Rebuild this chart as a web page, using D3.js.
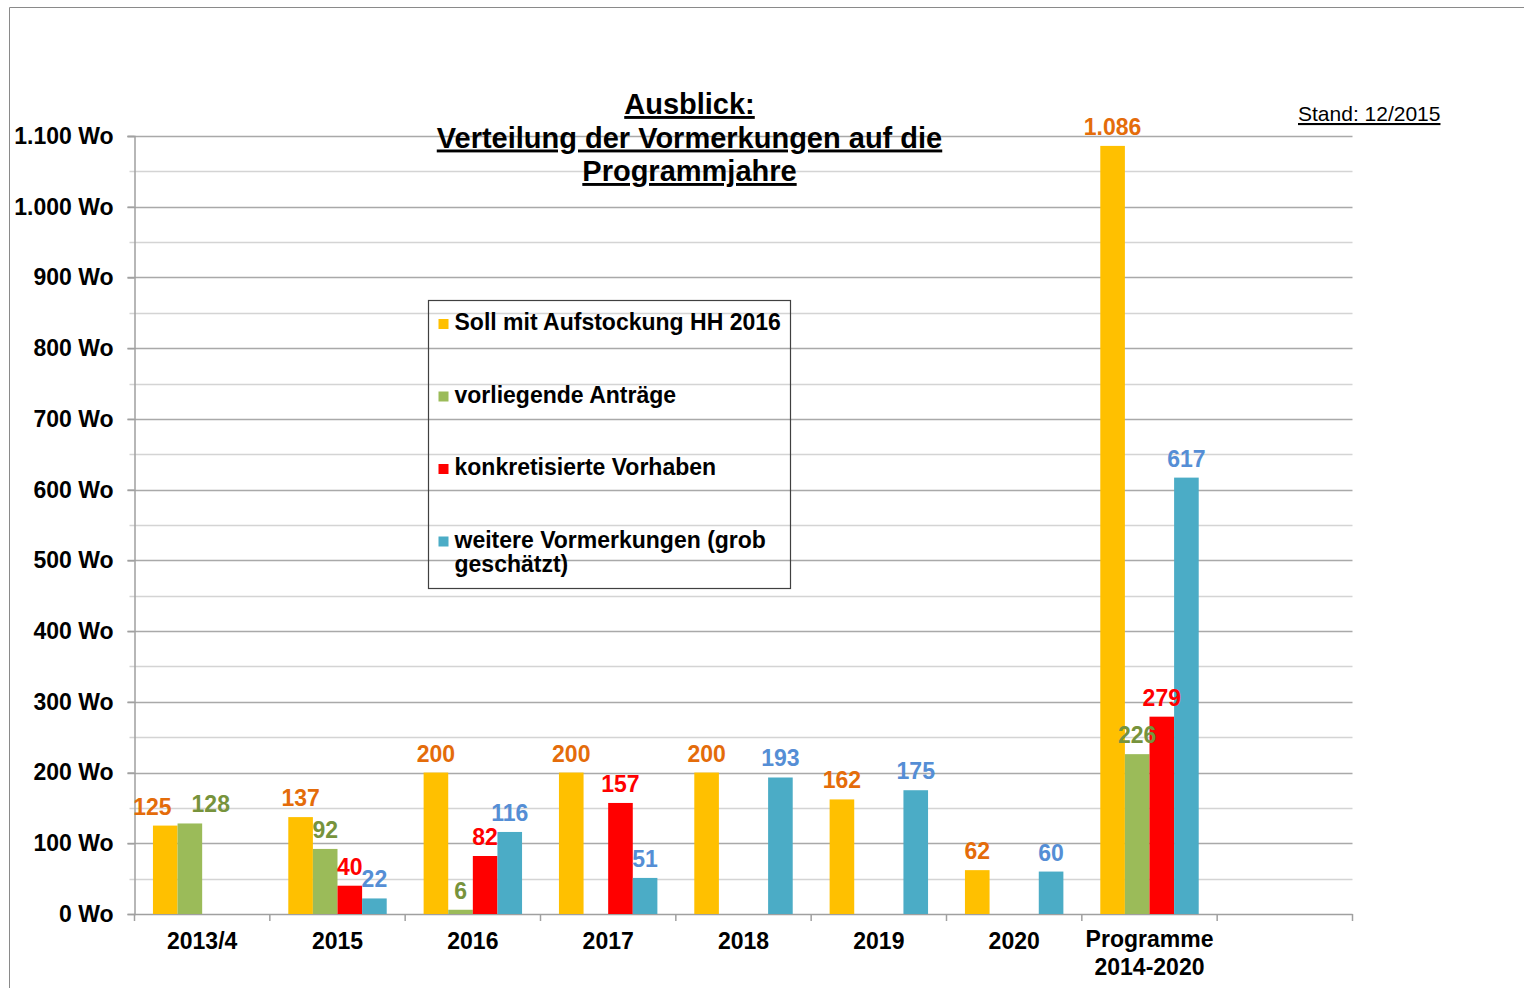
<!DOCTYPE html>
<html>
<head>
<meta charset="utf-8">
<script src="https://cdn.jsdelivr.net/npm/d3@7/dist/d3.min.js"></script>
<style>
body { margin: 0; background: #fff; }
svg text { font-family: "Liberation Sans", Arial, sans-serif; }
</style>
</head>
<body>
<div id="chart"></div>
<script>
// Chart data
var categories = ["2013/4", "2015", "2016", "2017", "2018", "2019", "2020", "Programme\n2014-2020", ""];
var seriesNames = ["Soll mit Aufstockung HH 2016", "vorliegende Anträge",
                   "konkretisierte Vorhaben", "weitere Vormerkungen (grob\ngeschätzt)"];
var soll     = [125, 137, 200, 200, 200, 162, 62, 1086, null];
var antraege = [128, 92, 6, null, null, null, null, 226, null];
var vorhaben = [null, 40, 82, 157, null, null, null, 279, null];
var weitere  = [null, 22, 116, 51, 193, 175, 60, 617, null];
var yTicks = [0, 100, 200, 300, 400, 500, 600, 700, 800, 900, 1000, 1100];

var barColours   = ["#FFC000", "#9BBB59", "#FF0000", "#4BACC6"];
var labelColours = ["#E46C0A", "#77933C", "#FF0000", "#558ED5"];

var width = 1524, height = 988;
// plot area edges (note: "top" is a reserved window property)
var plotLeft = 134.5, plotRight = 1352.5, plotBottom = 914, plotTop = 136;
var fontSize = 23;

var de = d3.formatLocale({decimal: ",", thousands: ".", grouping: [3], currency: ["", " €"]});
var fmt = de.format(",d");

var svg = d3.select("#chart").append("svg")
    .attr("width", width)
    .attr("height", height);

// outer frame (top and left edges visible)
svg.append("line").attr("x1", 9.5).attr("y1", 7.5).attr("x2", width).attr("y2", 7.5)
    .attr("stroke", "#8a8a8a");
svg.append("line").attr("x1", 9.5).attr("y1", 7.5).attr("x2", 9.5).attr("y2", height)
    .attr("stroke", "#8a8a8a");

var y = d3.scaleLinear().domain([0, 1100]).range([plotBottom, plotTop]);
var x0 = d3.scaleBand().domain(categories).range([plotLeft, plotRight]).padding(0);
var x1 = d3.scaleBand().domain(seriesNames).range([0, x0.bandwidth()])
    .paddingInner(0).paddingOuter(0.75);

// gridlines, major every 100 and minor every 50
var gridVals = d3.range(0, 1101, 50);
svg.append("g").selectAll("line")
    .data(gridVals.filter(function(d) { return d > 0; }))
    .enter().append("line")
    .attr("x1", function(d) { return d % 100 === 0 ? plotLeft - 7 : plotLeft - 5; })
    .attr("x2", plotRight)
    .attr("y1", function(d) { return Math.round(y(d)) + 0.5; })
    .attr("y2", function(d) { return Math.round(y(d)) + 0.5; })
    .attr("stroke", function(d) { return d % 100 === 0 ? "#a9a9a9" : "#d4d4d4"; })
    .attr("stroke-width", 1.5);

// y axis
var yAxis = d3.axisLeft(y)
    .tickValues(yTicks)
    .tickSize(7)
    .tickPadding(14)
    .tickFormat(function(d) { return fmt(d) + " Wo"; });
var gy = svg.append("g").attr("transform", "translate(" + plotLeft + ",0)").call(yAxis);
gy.select(".domain").attr("stroke", "#a0a0a0").attr("stroke-width", 1.5);
gy.selectAll(".tick line").attr("stroke", "#a0a0a0").attr("stroke-width", 1.5);
gy.selectAll(".tick text")
    .attr("font-family", "Liberation Sans, Arial, sans-serif")
    .attr("font-size", fontSize)
    .attr("font-weight", "bold")
    .attr("fill", "#000");

// x axis line and category boundary ticks
svg.append("line").attr("x1", plotLeft).attr("x2", plotRight)
    .attr("y1", plotBottom + 0.5).attr("y2", plotBottom + 0.5)
    .attr("stroke", "#a0a0a0").attr("stroke-width", 1.5);
var bounds = categories.map(function(c) { return x0(c); }).concat([plotRight]);
svg.append("g").selectAll("line").data(bounds).enter().append("line")
    .attr("x1", function(d) { return d; }).attr("x2", function(d) { return d; })
    .attr("y1", plotBottom).attr("y2", plotBottom + 7)
    .attr("stroke", "#a0a0a0").attr("stroke-width", 1.5);

// x category labels
var xl = svg.append("g").selectAll("text").data(categories).enter().append("text")
    .attr("text-anchor", "middle")
    .attr("font-size", fontSize)
    .attr("font-weight", "bold")
    .attr("fill", "#000")
    .attr("transform", function(d) {
        var lines = d.split("\n").length;
        return "translate(" + (x0(d) + x0.bandwidth() / 2) + "," + (lines > 1 ? 947 : 949) + ")";
    });
xl.each(function(d) {
    var t = d3.select(this);
    d.split("\n").forEach(function(s, i) {
        t.append("tspan").attr("x", 0).attr("dy", i === 0 ? 0 : 28).text(s);
    });
});

// bars
var series = [soll, antraege, vorhaben, weitere];
var barData = [];
series.forEach(function(vals, si) {
    vals.forEach(function(v, ci) {
        if (v !== null) barData.push({s: si, c: categories[ci], v: v});
    });
});

svg.append("g").selectAll("rect").data(barData).enter().append("rect")
    .attr("x", function(d) { return x0(d.c) + x1(seriesNames[d.s]); })
    .attr("y", function(d) { return y(d.v); })
    .attr("width", x1.bandwidth())
    .attr("height", function(d) { return plotBottom - y(d.v); })
    .attr("fill", function(d) { return barColours[d.s]; });

// value labels
var labels = svg.append("g").selectAll("text").data(barData).enter().append("text")
    .attr("x", function(d) { return x0(d.c) + x1(seriesNames[d.s]) + x1.bandwidth() / 2; })
    .attr("y", function(d) { return y(d.v) - 11; })
    .attr("text-anchor", "middle")
    .attr("font-size", fontSize)
    .attr("font-weight", "bold")
    .attr("fill", function(d) { return labelColours[d.s]; })
    .text(function(d) { return fmt(d.v); });

// push apart labels of neighbouring bars whose digits would overlap
function glyphBox(node) {
    var sel = d3.select(node);
    var w = node.getComputedTextLength();
    var base = +sel.attr("y");
    return {x0: +sel.attr("x") - w / 2, x1: +sel.attr("x") + w / 2,
            y0: base - 0.72 * fontSize, y1: base};
}
categories.forEach(function(c) {
    var nodes = labels.filter(function(d) { return d.c === c; }).nodes();
    for (var i = 1; i < nodes.length; i++) {
        var a = glyphBox(nodes[i - 1]), b = glyphBox(nodes[i]);
        var overlapX = a.x1 - b.x0;
        var overlapY = Math.min(a.y1, b.y1) - Math.max(a.y0, b.y0);
        if (overlapX > 2 && overlapY > 0) {
            var shift = (overlapX + 20) / 2;
            d3.select(nodes[i - 1]).attr("x", +d3.select(nodes[i - 1]).attr("x") - shift + 4);
            d3.select(nodes[i]).attr("x", +d3.select(nodes[i]).attr("x") + shift + 4);
        }
    }
});

// legend (no fill, gridlines show through)
var legend = svg.append("g").attr("transform", "translate(428.5,300.5)");
legend.append("rect")
    .attr("width", 362).attr("height", 288)
    .attr("fill", "none")
    .attr("stroke", "#404040").attr("stroke-width", 1.2);
var items = legend.selectAll(".legend").data(seriesNames).enter().append("g")
    .attr("class", "legend")
    .attr("transform", function(d, i) { return "translate(10," + (29.5 + i * 72.5) + ")"; });
items.append("rect")
    .attr("y", -11).attr("width", 10).attr("height", 10)
    .attr("fill", function(d, i) { return barColours[i]; });
items.append("text")
    .attr("x", 16)
    .attr("font-size", fontSize)
    .attr("font-weight", "bold")
    .attr("fill", "#000")
    .each(function(d) {
        var t = d3.select(this);
        d.split("\n").forEach(function(s, i) {
            t.append("tspan").attr("x", 16).attr("dy", i === 0 ? 0 : 24).text(s);
        });
    });

// title
var title = ["Ausblick:", "Verteilung der Vormerkungen auf die", "Programmjahre"];
svg.append("g").selectAll("text").data(title).enter().append("text")
    .attr("x", 689.5)
    .attr("y", function(d, i) { return 114 + i * 33.5; })
    .attr("text-anchor", "middle")
    .attr("font-size", 29)
    .attr("font-weight", "bold")
    .attr("fill", "#000")
    .style("text-decoration", "underline")
    .text(function(d) { return d; });

svg.append("text")
    .attr("x", 1298).attr("y", 121)
    .attr("font-size", 21)
    .attr("fill", "#000")
    .style("text-decoration", "underline")
    .text("Stand: 12/2015");
</script>
</body>
</html>
